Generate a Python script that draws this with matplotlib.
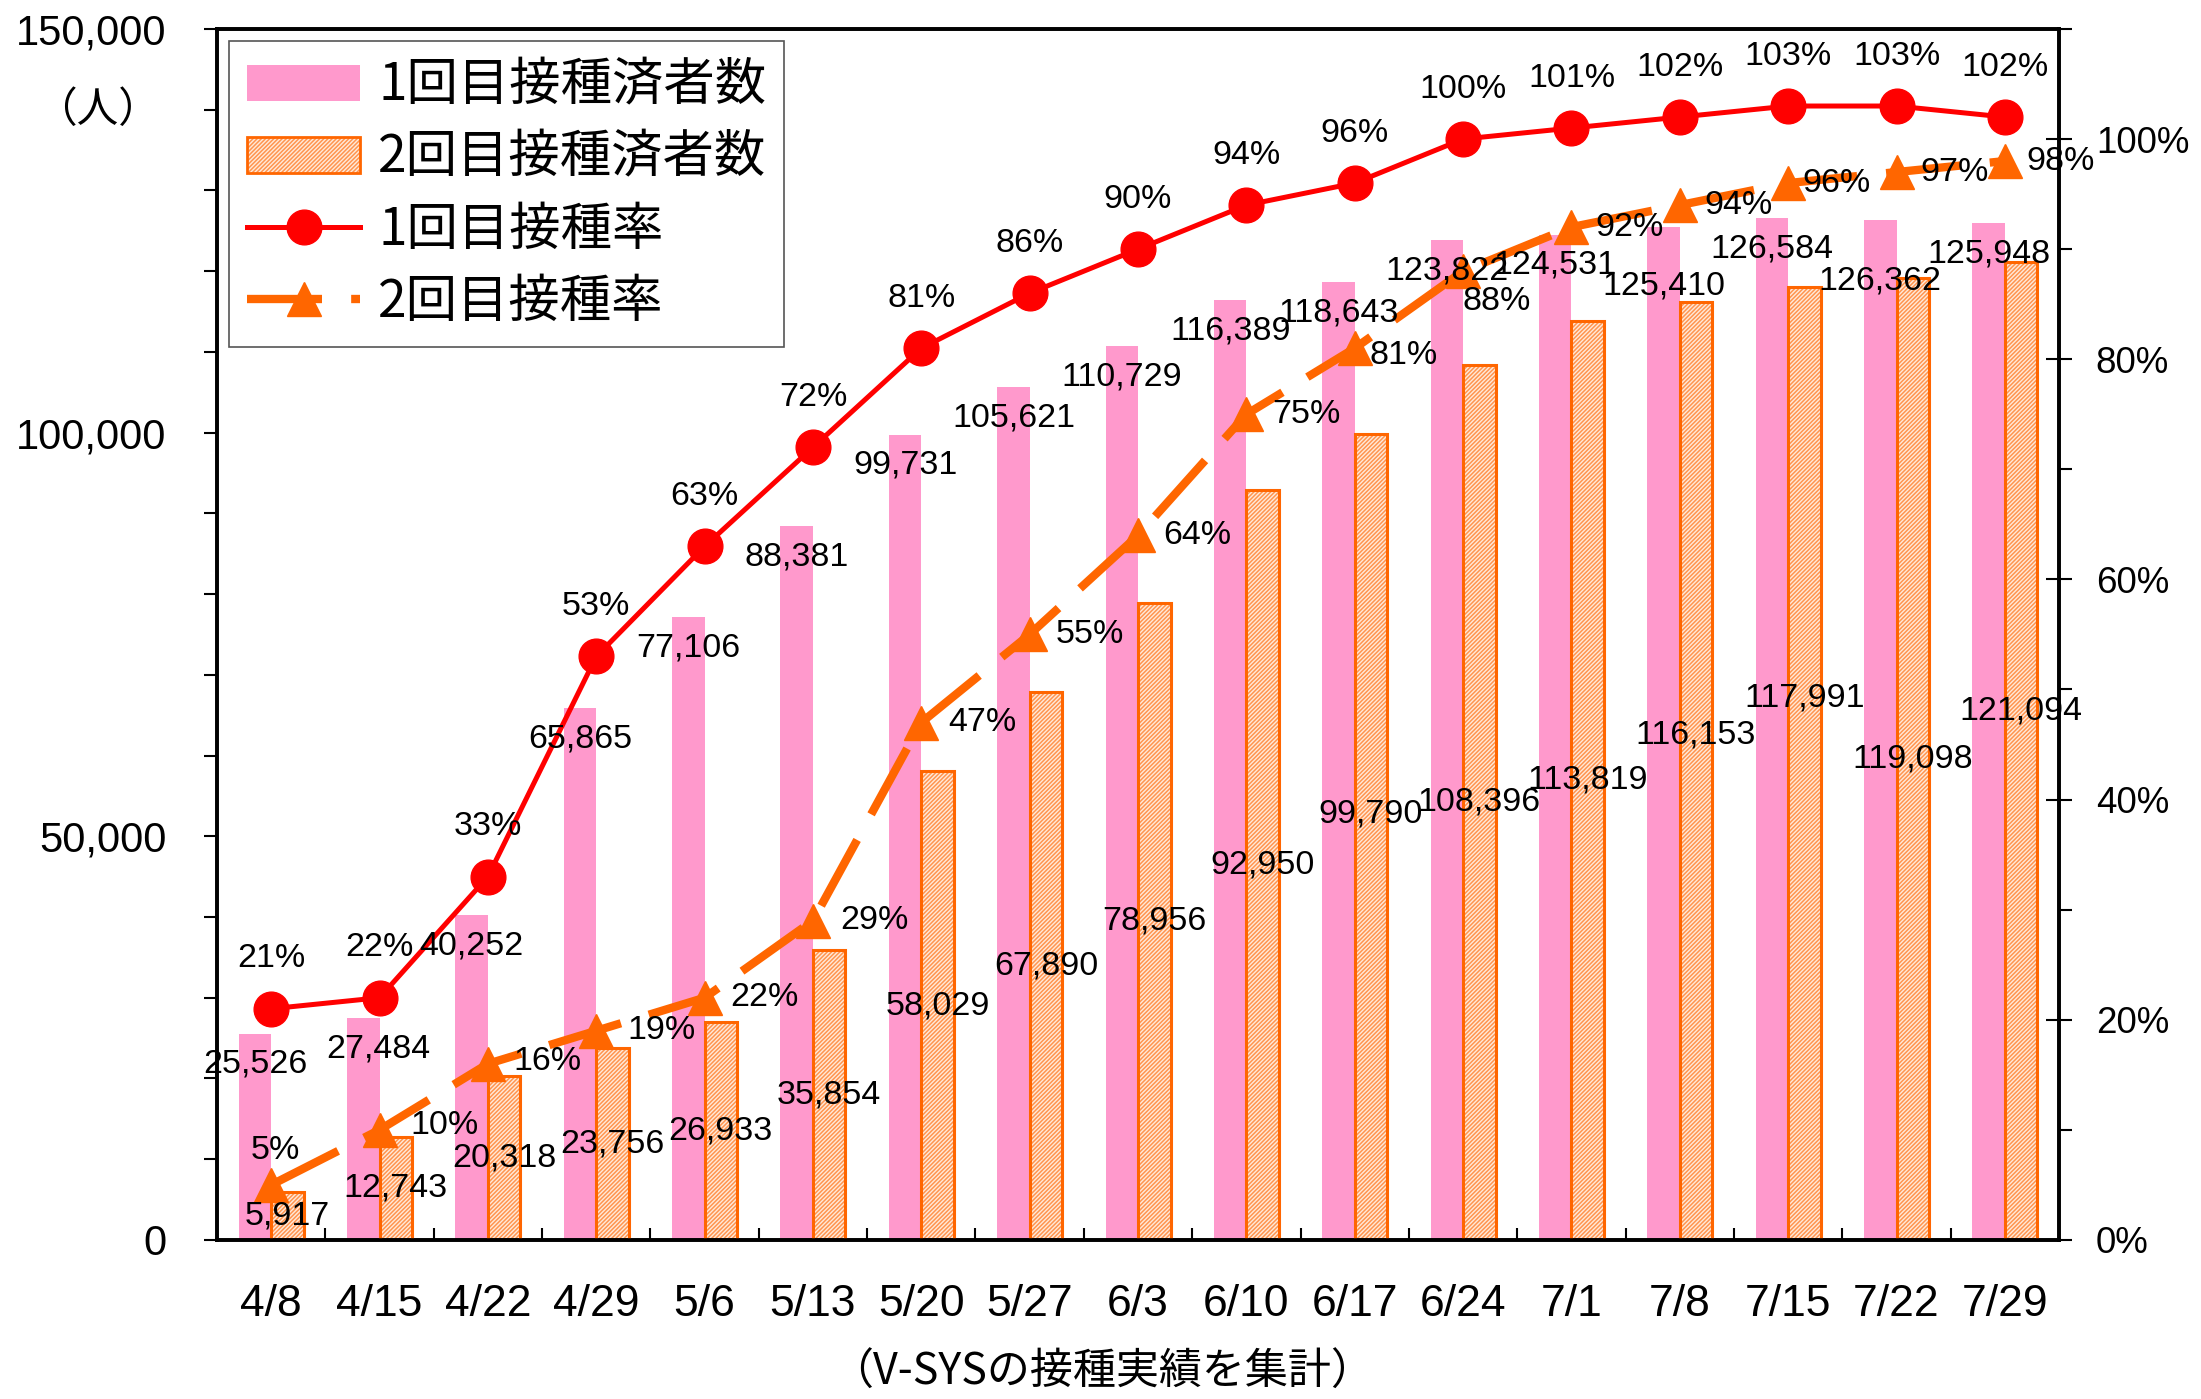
import numpy as np
import matplotlib
matplotlib.use("Agg")
import matplotlib.pyplot as plt
import matplotlib.patches as mpatches
from matplotlib import font_manager
from matplotlib.ticker import MultipleLocator, FuncFormatter

# ---------------------- DATA ----------------------
dates = ['4/8', '4/15', '4/22', '4/29', '5/6', '5/13', '5/20', '5/27', '6/3',
         '6/10', '6/17', '6/24', '7/1', '7/8', '7/15', '7/22', '7/29']
dose1 = [25526, 27484, 40252, 65865, 77106, 88381, 99731, 105621, 110729,
         116389, 118643, 123822, 124531, 125410, 126584, 126362, 125948]
dose2 = [5917, 12743, 20318, 23756, 26933, 35854, 58029, 67890, 78956,
         92950, 99790, 108396, 113819, 116153, 117991, 119098, 121094]
rate1 = [21, 22, 33, 53, 63, 72, 81, 86, 90, 94, 96, 100, 101, 102, 103, 103, 102]
rate2 = [5, 10, 16, 19, 22, 29, 47, 55, 64, 75, 81, 88, 92, 94, 96, 97, 98]

series_names = ['1回目接種済者数', '2回目接種済者数', '1回目接種率', '2回目接種率']
caption = '（V-SYSの接種実績を集計）'
unit_label = '（人）'

# label nudges in points (hand-placed labels in the original)
dose1_dx = [0, 11, 0, 0, 0, 0, 0, 0, 0, 0, 0, 0, 0, 0, 0, 0, 0]
dose1_dy = [-22, -22, -22, -22, -22, -22, -22, -22, -22, -22, -22, -22, -22, -42, -22, -44, -22]
dose2_dy = [0, 0, 0, 0, 0, 0, 0, 0, 0, 0, 17, 0, 0, 26, 47, 0, 29]
rate2_dx = [3, 47, 43, 47, 43, 44, 44, 43, 43, 43, 35, 24, 42, 42, 35, 42, 40]
rate2_dy = [25, 3, 2, 0, 0, 0, 0, 0, 0, 0, -5, -22, 0, 0, 0, 0, 0]

# ---------------------- STYLE ----------------------
PINK = '#FF99CC'
RED = '#FF0000'
ORANGE = '#FF6600'
HATCH_FACE = '#FFEADA'
HATCH_C = '#FF9550'
HATCH = '/' * 8
JP = 'Noto Sans CJK JP'

installed = {f.name for f in font_manager.fontManager.ttflist}
if 'Liberation Sans Narrow' in installed:
    NUM, num_size = 'Liberation Sans Narrow', 28
else:
    NUM, num_size = 'Liberation Sans', 24.5

plt.rcParams['hatch.linewidth'] = 1.1

fig = plt.figure(figsize=(22.01, 13.99), dpi=100)
ax = fig.add_axes([0.0986, 0.1137, 0.8369, 0.8656])
x = np.arange(len(dates))

ax.bar(x - 0.15, dose1, 0.3, color=PINK, zorder=2)
ax.bar(x + 0.15, dose2, 0.3, facecolor=HATCH_FACE, edgecolor=HATCH_C,
       hatch=HATCH, linewidth=0, zorder=2)
ax.bar(x + 0.15, dose2, 0.3, fill=False, edgecolor=ORANGE, linewidth=2.2, zorder=3)

ax.set_xlim(-0.5, len(dates) - 0.5)
ax.set_ylim(0, 150000)
ax.yaxis.set_major_locator(MultipleLocator(50000))
ax.yaxis.set_minor_locator(MultipleLocator(10000))
ax.yaxis.set_major_formatter(FuncFormatter(lambda v, _: f"{v:,.0f}"))
ax.tick_params(axis='y', which='both', direction='out', length=9.5, width=1.5,
               labelsize=30, pad=27)
for lab in ax.get_yticklabels():
    lab.set_fontfamily('Liberation Sans')

ax.set_xticks(np.arange(-0.5, len(dates), 1))
ax.set_xticklabels([])
ax.set_xticks(x, minor=True)
ax.set_xticklabels(dates, minor=True, fontsize=32, fontfamily='Liberation Sans')
ax.tick_params(axis='x', which='major', direction='in', length=9, width=1.5)
ax.tick_params(axis='x', which='minor', length=0, pad=32)

ax2 = ax.twinx()
ax2.set_ylim(0, 110)
ax2.yaxis.set_major_locator(MultipleLocator(20))
ax2.yaxis.set_minor_locator(MultipleLocator(10))
ax2.yaxis.set_major_formatter(FuncFormatter(lambda v, _: f"{v:.0f}%"))
ax2.tick_params(axis='y', which='major', direction='inout', length=19, width=1.5,
                labelsize=26.5, pad=17)
ax2.tick_params(axis='y', which='minor', direction='out', length=9, width=1.5)
for lab in ax2.get_yticklabels():
    lab.set_fontfamily(NUM)

for a in (ax, ax2):
    for s in a.spines.values():
        s.set_linewidth(2.6)

ax2.plot(x, rate1, color=RED, lw=3.6, marker='o', ms=25, zorder=3)
ax2.plot(x, rate2, color=ORANGE, lw=6, dashes=(9, 3.5), marker='^', ms=24, zorder=3)

# data labels (drawn on ax2 so they sit above the lines)
for i in range(len(dates)):
    ax2.annotate(f"{dose1[i]:,}", xy=(x[i] - 0.15, dose1[i]), xycoords=ax.transData,
                 xytext=(dose1_dx[i], dose1_dy[i]), textcoords='offset points',
                 ha='center', va='center', fontsize=num_size, fontfamily=NUM)
    ax2.annotate(f"{dose2[i]:,}", xy=(x[i] + 0.15, dose2[i] / 2), xycoords=ax.transData,
                 xytext=(0, dose2_dy[i]), textcoords='offset points',
                 ha='center', va='center', fontsize=num_size, fontfamily=NUM)
    ax2.annotate(f"{rate1[i]}%", xy=(x[i], rate1[i]), xytext=(0, 36),
                 textcoords='offset points', ha='center', va='center',
                 fontsize=num_size, fontfamily=NUM)
    ax2.annotate(f"{rate2[i]}%", xy=(x[i], rate2[i]), xytext=(rate2_dx[i], rate2_dy[i]),
                 textcoords='offset points', ha='center', va='center',
                 fontsize=num_size, fontfamily=NUM)

handles = [
    mpatches.Patch(facecolor=PINK, edgecolor='none'),
    (mpatches.Patch(facecolor=HATCH_FACE, edgecolor=HATCH_C, hatch=HATCH, linewidth=0),
     mpatches.Patch(fill=False, edgecolor=ORANGE, linewidth=2)),
    plt.Line2D([], [], color=RED, lw=3.6, marker='o', ms=25),
    plt.Line2D([], [], color=ORANGE, lw=6, dashes=(9, 3.5), marker='^', ms=24),
]
leg = ax2.legend(handles, series_names, loc='upper left', bbox_to_anchor=(0.0065, 0.99),
                 prop={'family': JP, 'size': 37}, frameon=True, fancybox=False,
                 edgecolor='#555555', framealpha=1, borderpad=0.35, handlelength=2.2,
                 handletextpad=0.35, labelspacing=0.36, borderaxespad=0)
leg.get_frame().set_linewidth(1.2)

fig.text(0.0445, 0.921, unit_label, ha='center', va='center', fontsize=30, family=JP)
fig.text(0.5007, 1 - 1373 / 1399, caption, ha='center', va='center', fontsize=31, family=JP)

fig.savefig('out.png', dpi=100)
